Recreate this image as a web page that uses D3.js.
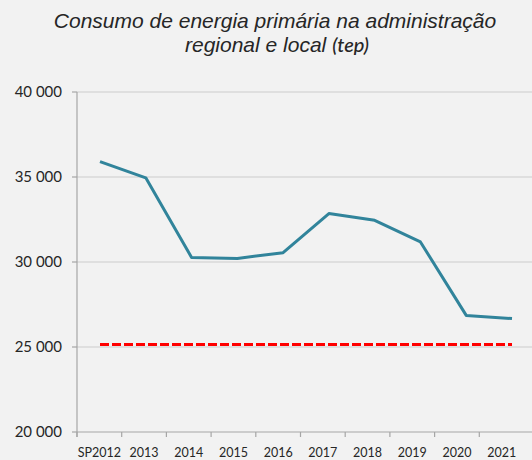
<!DOCTYPE html>
<html>
<head>
<meta charset="utf-8">
<script src="https://cdn.jsdelivr.net/npm/d3@7"></script>
<style>
  html, body { margin: 0; padding: 0; background: #f2f2f2; }
  svg { display: block; }
</style>
</head>
<body>
<svg id="chart" width="532" height="460"></svg>
<script>
const categories = ["SP2012", "2013", "2014", "2015", "2016", "2017", "2018", "2019", "2020", "2021"];
const consumo = [35900, 34950, 30270, 30210, 30550, 32850, 32450, 31180, 26860, 26670];
const meta = [25150, 25150, 25150, 25150, 25150, 25150, 25150, 25150, 25150, 25150];
const yTicks = [20000, 25000, 30000, 35000, 40000];
const yTickLabels = ["20 000", "25 000", "30 000", "35 000", "40 000"];

const svg = d3.select("#chart");
svg.append("rect").attr("width", 532).attr("height", 460).attr("fill", "#f2f2f2");

const y = d3.scaleLinear().domain([20000, 40000]).range([432, 92]);
const xBand = d3.scaleBand().domain(categories).range([77, 524]);
const xPt = d3.scalePoint().domain(categories).range([100, 512]);

// gridlines
svg.append("g").selectAll("line").data(yTicks.filter(d => d > 20000)).join("line")
  .attr("x1", 77).attr("x2", 532)
  .attr("y1", d => y(d)).attr("y2", d => y(d))
  .attr("stroke", "#d9d9d9").attr("stroke-width", 1.5);

// y axis
const gy = svg.append("g");
gy.append("line").attr("x1", 77).attr("x2", 77).attr("y1", y(40000)).attr("y2", 437)
  .attr("stroke", "#a6a6a6").attr("stroke-width", 1.2);
gy.selectAll("line.t").data(yTicks).join("line").attr("class", "t")
  .attr("x1", 72).attr("x2", 77).attr("y1", d => y(d)).attr("y2", d => y(d))
  .attr("stroke", "#a6a6a6").attr("stroke-width", 1.2);
gy.selectAll("text").data(yTicks).join("text")
  .attr("x", 62).attr("y", d => y(d)).attr("dy", "0.35em")
  .attr("text-anchor", "end")
  .attr("font-family", "Lato, 'Open Sans', sans-serif").attr("font-size", 15)
  .attr("fill", "#262626")
  .text((d, i) => yTickLabels[i]);

// x axis
const gx = svg.append("g");
gx.append("line").attr("x1", 77).attr("x2", 532).attr("y1", 432).attr("y2", 432)
  .attr("stroke", "#a6a6a6").attr("stroke-width", 1.2);
gx.selectAll("line.t").data(categories).join("line").attr("class", "t")
  .attr("x1", d => xBand(d)).attr("x2", d => xBand(d)).attr("y1", 432).attr("y2", 437)
  .attr("stroke", "#a6a6a6").attr("stroke-width", 1.2);
gx.selectAll("text").data(categories).join("text")
  .attr("x", d => xBand(d) + xBand.bandwidth() / 2).attr("y", 457)
  .attr("text-anchor", "middle")
  .attr("font-family", "Lato, 'Open Sans', sans-serif").attr("font-size", 12.5)
  .attr("fill", "#262626")
  .text(d => d);

// target dashed line
const line = d3.line().x((d, i) => xPt(categories[i])).y(d => y(d));
svg.append("path").datum(meta).attr("d", line)
  .attr("fill", "none").attr("stroke", "#ff0000").attr("stroke-width", 3)
  .attr("stroke-dasharray", "9,3");

// main series
svg.append("path").datum(consumo).attr("d", line)
  .attr("fill", "none").attr("stroke", "#31849b").attr("stroke-width", 3)
  .attr("stroke-linejoin", "round");

// title
const t = svg.append("text").attr("text-anchor", "middle")
  .attr("font-family", "'Liberation Sans', Arial, sans-serif").attr("font-style", "italic")
  .attr("fill", "#262626");
t.append("tspan").attr("x", 275).attr("y", 28).attr("font-size", 21)
  .text("Consumo de energia primária na administração");
const t2 = t.append("tspan").attr("x", 277).attr("y", 52);
t2.append("tspan").attr("font-size", 21).text("regional e local");
t2.append("tspan").attr("dx", 6).attr("font-family", "Lato, sans-serif").attr("font-size", 20)
  .attr("font-weight", 500).text("(tep)");
</script>
</body>
</html>
